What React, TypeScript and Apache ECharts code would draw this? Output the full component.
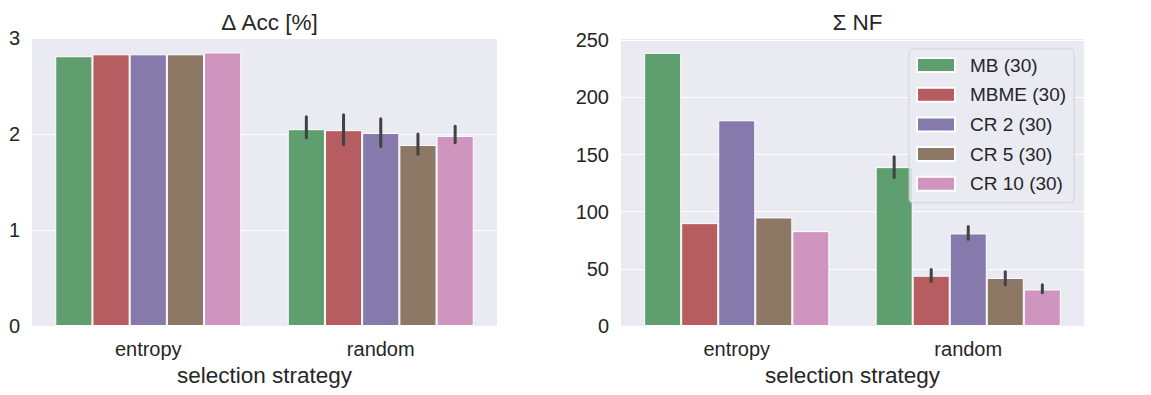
import React, { useEffect, useRef } from "react";
import * as echarts from "echarts";

const categories = ["entropy", "random"];
const hues = ["MB (30)", "MBME (30)", "CR 2 (30)", "CR 5 (30)", "CR 10 (30)"];
const colors = ["#5f9e6e", "#b55d60", "#857aab", "#8d7866", "#d095bf"];

const accEntropy = [2.81, 2.83, 2.83, 2.83, 2.85];
const accRandom = [2.05, 2.04, 2.01, 1.885, 1.98];
const accRandomLow = [1.96, 1.89, 1.87, 1.79, 1.91];
const accRandomHigh = [2.18, 2.2, 2.16, 2.0, 2.08];

const nfEntropy = [239, 90, 180, 95, 83];
const nfRandom = [139, 44, 81, 42, 32];
const nfRandomLow = [130, 39, 76, 36, 29];
const nfRandomHigh = [148, 49.5, 87, 47.5, 36];

const accTicks = { min: 0, max: 3, interval: 1 };
const nfTicks = { min: 0, max: 252, interval: 50 };

const FONT = "'Liberation Sans', Arial, sans-serif";
const TEXT = "#262626";

export default function App() {
  const ref = useRef<HTMLDivElement>(null);
  useEffect(() => {
    document.body.style.margin = "0";
    const chart = echarts.init(ref.current!, null, { renderer: "svg" });

    const barSeries = (gi: number, ent: number[], rnd: number[]) =>
      hues.map((h, i) => ({
        type: "bar",
        name: h,
        xAxisIndex: gi,
        yAxisIndex: gi,
        barWidth: "16%",
        barGap: "0%",
        data: [ent[i], rnd[i]],
        itemStyle: { color: colors[i], borderColor: "#ffffff", borderWidth: 1 },
      }));

    const errSeries = (gi: number, low: number[], high: number[]) => ({
      type: "custom",
      xAxisIndex: gi,
      yAxisIndex: gi,
      z: 10,
      encode: { x: 0, y: [2, 3] },
      data: hues.map((_, i) => [1, i, low[i], high[i]]),
      renderItem: (params: any, api: any) => {
        const cat = api.value(0);
        const hue = api.value(1);
        const p1 = api.coord([cat, api.value(2)]);
        const p2 = api.coord([cat, api.value(3)]);
        const band = api.size([1, 0])[0];
        const x = p1[0] + (hue - 2) * band * 0.16;
        return {
          type: "line",
          shape: { x1: x, y1: p2[1], x2: x, y2: p1[1] },
          style: { stroke: "#424242", lineWidth: 3, lineCap: "round" },
        };
      },
    });

    const xAxis = (gi: number) => ({
      type: "category",
      gridIndex: gi,
      data: categories,
      axisLine: { show: false },
      axisTick: { show: false },
      splitLine: { show: false },
      axisLabel: { color: TEXT, fontSize: 20, fontFamily: FONT, margin: 13 },
      name: "selection strategy",
      nameLocation: "middle",
      nameGap: 30,
      nameTextStyle: { color: TEXT, fontSize: 22.5, fontFamily: FONT },
    });

    const yAxis = (gi: number, t: any) => ({
      type: "value",
      gridIndex: gi,
      min: t.min,
      max: t.max,
      interval: t.interval,
      axisLine: { show: false },
      axisTick: { show: false },
      splitLine: { show: true, lineStyle: { color: "#ffffff", width: 1 } },
      axisLabel: {
        color: TEXT,
        fontSize: 20,
        fontFamily: FONT,
        margin: 12,
        showMaxLabel: t.max % t.interval === 0,
      },
    });

    chart.setOption({
      animation: false,
      backgroundColor: "#ffffff",
      textStyle: { fontFamily: FONT },
      title: [
        {
          text: "Δ Acc [%]",
          left: 264.5,
          top: 6,
          textAlign: "center",
          textStyle: { color: TEXT, fontSize: 22.5, fontFamily: FONT, fontWeight: "normal" },
        },
        {
          text: "Σ NF",
          left: 852.5,
          top: 6,
          textAlign: "center",
          textStyle: { color: TEXT, fontSize: 22.5, fontFamily: FONT, fontWeight: "normal" },
        },
      ],
      grid: [
        { left: 32, top: 38, width: 465, height: 288, show: true, backgroundColor: "#eaeaf2", borderWidth: 0 },
        { left: 621, top: 38, width: 463, height: 288, show: true, backgroundColor: "#eaeaf2", borderWidth: 0 },
      ],
      xAxis: [xAxis(0), xAxis(1)],
      yAxis: [yAxis(0, accTicks), yAxis(1, nfTicks)],
      legend: {
        data: hues,
        orient: "vertical",
        left: 909,
        top: 49,
        selectedMode: false,
        icon: "rect",
        itemWidth: 38,
        itemHeight: 14,
        itemGap: 9.7,
        padding: [6, 8, 9, 7],
        backgroundColor: "rgba(234,234,242,0.8)",
        borderColor: "rgba(204,204,204,0.8)",
        borderWidth: 1,
        borderRadius: 4,
        z: 20,
        textStyle: {
          color: TEXT,
          fontSize: 19,
          fontFamily: FONT,
          lineHeight: 20,
          padding: [0, 0, 0, 10],
        },
      },
      series: [
        ...barSeries(0, accEntropy, accRandom),
        ...barSeries(1, nfEntropy, nfRandom),
        errSeries(0, accRandomLow, accRandomHigh),
        errSeries(1, nfRandomLow, nfRandomHigh),
      ],
    });
    return () => chart.dispose();
  }, []);
  return <div ref={ref} style={{ width: 1151, height: 395 }} />;
}
